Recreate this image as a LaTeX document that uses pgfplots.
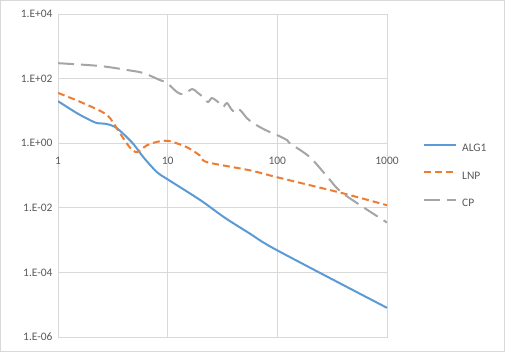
\documentclass[border=0pt]{standalone}
\usepackage{fontspec}
\setmainfont{Carlito}
\usepackage{pgfplots}
\pgfplotsset{compat=1.18}
\definecolor{gridc}{HTML}{D9D9D9}
\definecolor{txt}{HTML}{595959}
\definecolor{algc}{HTML}{5B9BD5}
\definecolor{lnpc}{HTML}{ED7D31}
\definecolor{cpc}{HTML}{A5A5A5}
\begin{document}
\begin{tikzpicture}[x=1bp,y=1bp]
\useasboundingbox (0,0) rectangle (505,352);
\draw[gridc, line width=0.75bp] (0.5,0.5) rectangle (504.5,351.5);
\begin{axis}[
 at={(58bp,15bp)}, anchor=south west, scale only axis, width=329bp, height=323bp,
 xmode=log, ymode=log, xmin=1, xmax=1000, ymin=1e-6, ymax=1e4,
 xtick={1,10,100,1000}, xticklabels={1,10,100,1000},
 ytick={1e-6,1e-4,1e-2,1,1e2,1e4},
 yticklabels={1.E-06,1.E-04,1.E-02,1.E+00,1.E+02,1.E+04},
 minor xtick={}, minor ytick={},
 grid=major, major grid style={gridc, line width=0.75bp},
 axis line style={gridc, line width=0.75bp},
 tick style={draw=none}, major tick length=0pt,
 /pgf/number format/assume math mode=true,
 ticklabel style={font=\fontsize{11.5}{13}\selectfont, text=txt},
 yticklabel style={xshift=-2bp},
 xticklabel style={yshift=183bp},
 legend style={at={(1.1094,0.4985)}, anchor=west, draw=none, fill=none,
   inner sep=0pt, font=\fontsize{11.5}{13}\selectfont, text=txt,
   row sep=18.6bp, column sep=5bp, nodes={inner sep=0pt}},
 legend cell align=left,
 legend image code/.code={\draw[#1] (0bp,3.7bp) -- (32bp,3.7bp);},
]
\addplot[algc, line width=2bp, smooth] coordinates {
(1,20) (1.49,8.5) (2,5) (2.27,4.2) (2.8,3.9) (3.45,2.9) (4.8,1.0) (6,0.37)
(8,0.126) (10,0.076) (20,0.017) (33,0.005) (56,0.0016) (100,4.8e-4) (1000,8e-6)};
\addlegendentry{ALG1}
\addplot[lnpc, line width=2bp, smooth, dash pattern=on 7bp off 4bp] coordinates {
(1,36) (1.69,17.5) (2.8,7.4) (3.67,2.04) (4.5,0.75) (5.25,0.53) (6.5,0.87)
(8.5,1.15) (10.5,1.15) (15,0.75) (19.6,0.42) (22.8,0.26) (56,0.145)
(100,0.088) (398,0.028) (1000,0.012)};
\addlegendentry{LNP}
\addplot[cpc, line width=2bp, smooth, dash pattern=on 16bp off 7bp] coordinates {
(1,300) (2.4,246) (4.2,186) (6,149) (8.5,90) (9.86,73) (12.2,38) (13.9,33)
(16.7,47.5) (18.5,38) (21,26.8) (23.3,18.8) (25.3,25) (28.8,18.8) (31.9,13.1)
(34.7,17.5) (38.6,10.6) (42.8,8.55) (45.6,10.6) (52.8,5.97) (58.7,4.49)
(69.4,3.14) (85.6,2.2) (100,1.77) (123,1.24) (130,1.0) (198,0.37) (283,0.095)
(396,0.028) (1000,0.0035)};
\addlegendentry{CP}
\end{axis}
\end{tikzpicture}
\end{document}
